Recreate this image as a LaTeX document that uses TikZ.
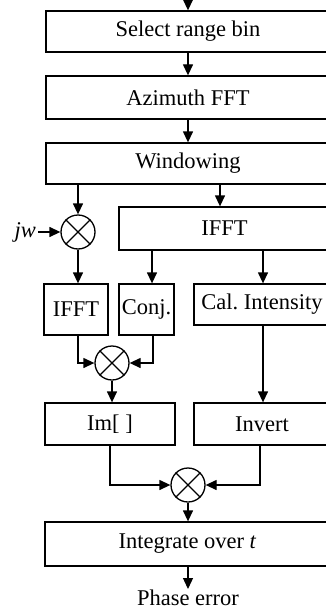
\documentclass[tikz,border=0pt]{standalone}
\usepackage{fontspec}
\setmainfont{Liberation Serif}
\usetikzlibrary{arrows.meta,calc}
\begin{document}
\begin{tikzpicture}[x=1pt,y=-1pt,
  txt/.style={font=\fontsize{22.5}{25}\selectfont},
  box/.style={draw,line width=1.3pt,inner sep=0pt,txt},
  mult/.style={draw,circle,line width=1.3pt,minimum size=34pt,inner sep=0pt},
  arr/.style={line width=1.3pt,-{Triangle[length=11pt,width=10pt]}},
  ln/.style={line width=1.3pt}]
\clip (0,0) rectangle (326,610);
\fill[white] (0,0) rectangle (326,610);
\coordinate (start) at (188,-2);
\node[box,minimum width=284pt,minimum height=41pt] (sel) at (188,31.5) {Select range bin};
\node[box,minimum width=284pt,minimum height=43pt] (az) at (188,97.5) {Azimuth FFT};
\node[box,minimum width=284pt,minimum height=41pt] (win) at (188,163.5) {Windowing};
\node[box,minimum width=211pt,minimum height=43pt] (bifft) at (224.5,228.5) {IFFT};
\node[mult] (c1) at (78,232) {};
\node[txt,font=\fontsize{22.5}{25}\selectfont\itshape,anchor=east,inner sep=0pt] (jw) at (36,232) {jw};
\node[box,minimum width=64pt,minimum height=51pt] (sifft) at (76,309.5) {IFFT};
\node[box,minimum width=55pt,minimum height=51pt] (conj) at (146.5,309.5) {Conj.};
\node[box,minimum width=136pt,minimum height=41pt] (cal) at (262,304.5) {Cal.\ Intensity};
\node[mult] (c2) at (112,363) {};
\node[box,minimum width=130pt,minimum height=42pt] (im) at (110,424) {Im[~]};
\node[box,minimum width=136pt,minimum height=42pt] (inv) at (262,424) {Invert};
\node[mult] (c3) at (188,485) {};
\node[box,minimum width=285pt,minimum height=44pt] (integ) at (187.5,544) {Integrate over \textit{t}};
\coordinate (out) at (188,589);
\node[txt,anchor=base,inner sep=0pt] (pe) at (188,605.5) {Phase error};
% crosses
\foreach \c in {c1,c2,c3}{
  \draw[ln] (\c.north west) -- (\c.south east);
  \draw[ln] (\c.north east) -- (\c.south west);
}
% connectors
\draw[arr] (start) -- (sel.north);
\draw[arr] (sel.south) -- (az.north);
\draw[arr] (az.south) -- (win.north);
\draw[arr] (win.south -| c1) -- (c1.north);
\draw[arr] (win.south -| 220,0) -- (bifft.north -| 220,0);
\draw[arr] (jw.east) ++(2,0) -- (c1.west);
\draw[arr] (c1.south) -- (sifft.north -| c1);
\draw[arr] (bifft.south -| 152,0) -- (conj.north -| 152,0);
\draw[arr] (bifft.south -| 263,0) -- (cal.north -| 263,0);
\draw[arr] (sifft.south -| c1) |- (c2.west);
\draw[arr] (conj.south -| 153,0) |- (c2.east);
\draw[arr] (c2.south) -- (im.north -| c2);
\draw[arr] (cal.south -| 263,0) -- (inv.north -| 263,0);
\draw[arr] (im.south) |- (c3.west);
\draw[arr] (inv.south -| 260,0) |- (c3.east);
\draw[arr] (c3.south) -- (integ.north -| c3);
\draw[arr] (integ.south -| c3) -- (out);
\end{tikzpicture}
\end{document}
